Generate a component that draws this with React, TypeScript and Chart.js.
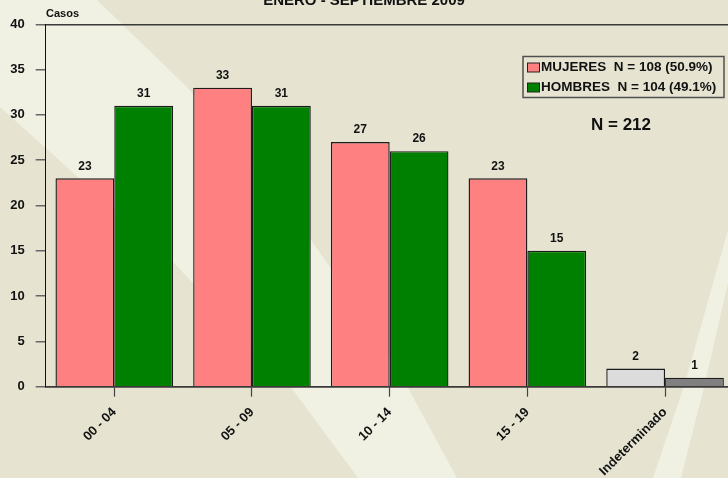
import React, { useEffect, useRef } from 'react';
import { Chart, registerables } from 'chart.js';

Chart.register(...registerables);

const categories = ['00 - 04', '05 - 09', '10 - 14', '15 - 19', 'Indeterminado'];
const mujeres = [23, 33, 27, 23, 2];
const hombres = [31, 31, 26, 15, 1];
const mujeresColors = ['#FF8080', '#FF8080', '#FF8080', '#FF8080', '#DCDCDC'];
const hombresColors = ['#008000', '#008000', '#008000', '#008000', '#808080'];
const seriesNames = ['MUJERES  N = 108 (50.9%)', 'HOMBRES  N = 104 (49.1%)'];
const legendColors = ['#FF8080', '#008000'];
const yTickValues = [0, 5, 10, 15, 20, 25, 30, 35, 40];
const titleText = 'ENERO - SEPTIEMBRE 2009';
const yAxisTitle = 'Casos';
const totalText = 'N = 212';

const FONT = "Arial, 'Liberation Sans', sans-serif";
const BASE = 'rgb(230,228,209)';
const LIGHT = 'rgb(240,240,227)';

const backgroundPlugin = {
  id: 'bgPlugin',
  beforeDraw(chart: any) {
    const ctx = chart.ctx;
    const w = chart.width;
    const h = chart.height;
    ctx.save();
    ctx.fillStyle = BASE;
    ctx.fillRect(0, 0, w, h);
    ctx.fillStyle = LIGHT;
    // band 1
    const right = [[97, 0], [187, 87], [250, 162], [311, 240], [360, 310], [407, 386], [457, 478]];
    const left = [[358, 478], [290, 386], [230, 322], [173, 262], [90, 188], [0, 107]];
    ctx.beginPath();
    ctx.moveTo(0, 0);
    right.forEach(([x, y]) => ctx.lineTo(x, y));
    left.forEach(([x, y]) => ctx.lineTo(x, y));
    ctx.closePath();
    ctx.fill();
    // band 2
    ctx.beginPath();
    ctx.moveTo(728, 230);
    ctx.lineTo(685, 383);
    ctx.lineTo(653, 478);
    ctx.lineTo(681, 478);
    ctx.lineTo(705, 383);
    ctx.lineTo(728, 283);
    ctx.closePath();
    ctx.fill();
    ctx.restore();
  },
};

const annotationsPlugin = {
  id: 'annotPlugin',
  afterDatasetsDraw(chart: any) {
    const ctx = chart.ctx;
    ctx.save();
    // value labels
    ctx.fillStyle = '#111';
    ctx.font = `bold 12px ${FONT}`;
    ctx.textAlign = 'center';
    ctx.textBaseline = 'middle';
    chart.data.datasets.forEach((ds: any, di: number) => {
      const meta = chart.getDatasetMeta(di);
      meta.data.forEach((el: any, i: number) => {
        const v = ds.data[i].y;
        ctx.fillText(String(v), el.x, el.y - 12);
      });
    });
    // title (cut at top)
    ctx.font = `bold 15px ${FONT}`;
    ctx.textBaseline = 'alphabetic';
    ctx.fillText(titleText, 364, 5);
    // y axis title
    ctx.font = `bold 11px ${FONT}`;
    ctx.textAlign = 'left';
    ctx.textBaseline = 'middle';
    ctx.fillText(yAxisTitle, 46, 13.5);
    // total
    ctx.font = `bold 17px ${FONT}`;
    ctx.textAlign = 'center';
    ctx.fillText(totalText, 621, 125);
    // legend
    ctx.strokeStyle = '#505050';
    ctx.lineWidth = 1.5;
    ctx.strokeRect(523, 56.5, 201, 41);
    ctx.font = `bold 13.5px ${FONT}`;
    ctx.textAlign = 'left';
    seriesNames.forEach((name, i) => {
      const cy = 67.5 + i * 20;
      ctx.fillStyle = legendColors[i];
      ctx.fillRect(527, cy - 4.5, 13, 9);
      ctx.strokeStyle = '#222';
      ctx.lineWidth = 1;
      ctx.strokeRect(527.5, cy - 4.5, 12, 9);
      ctx.fillStyle = '#111';
      ctx.fillText(name, 541, cy);
    });
    ctx.restore();
  },
};

export default function App() {
  const ref = useRef<HTMLCanvasElement | null>(null);
  useEffect(() => {
    if (!ref.current) return;
    const chart = new Chart(ref.current, {
      type: 'bar',
      data: {
        datasets: [
          {
            label: seriesNames[0],
            data: mujeres.map((v, i) => ({ x: i, y: v })),
            backgroundColor: mujeresColors,
            borderColor: '#1c1c1c',
            borderWidth: 1.4,
            categoryPercentage: 0.854,
            barPercentage: 1,
          },
          {
            label: seriesNames[1],
            data: hombres.map((v, i) => ({ x: i, y: v })),
            backgroundColor: hombresColors,
            borderColor: '#1c1c1c',
            borderWidth: 1.4,
            categoryPercentage: 0.854,
            barPercentage: 1,
          },
        ],
      } as any,
      options: {
        responsive: false,
        animation: false,
        devicePixelRatio: 1,
        layout: { padding: { top: 24.3, left: 0, right: 0, bottom: 0 } },
        plugins: {
          legend: { display: false },
          title: { display: false },
          tooltip: { enabled: false },
        },
        scales: {
          x: {
            type: 'linear',
            min: -0.498,
            max: 4.457,
            offset: false,
            afterBuildTicks: (s: any) => {
              s.ticks = categories.map((_, i) => ({ value: i }));
            },
            afterFit: (s: any) => {
              s.height = 91.3;
            },
            ticks: {
              autoSkip: false,
              maxRotation: 45,
              minRotation: 45,
              padding: 8,
              color: '#111',
              font: { family: FONT, size: 13, weight: 'bold' },
              callback: (v: any) => categories[v] ?? '',
            },
            grid: {
              drawOnChartArea: false,
              offset: false,
              tickLength: 10,
              tickColor: '#444',
              tickWidth: 1.2,
              color: '#444',
            },
            border: { display: true, color: '#3a3a3a', width: 1.5 },
          },
          y: {
            min: 0,
            max: 40,
            afterBuildTicks: (s: any) => {
              s.ticks = yTickValues.map((v) => ({ value: v }));
            },
            afterFit: (s: any) => {
              s.width = 45.7;
            },
            ticks: {
              padding: 11,
              color: '#111',
              font: { family: FONT, size: 13, weight: 'bold' },
            },
            grid: {
              drawOnChartArea: true,
              tickLength: 10,
              tickWidth: 1.5,
              tickColor: '#666',
              lineWidth: 1.5,
              color: (c: any) =>
                c.tick && (c.tick.value === 40 || c.tick.value === 0) ? '#3a3a3a' : 'rgba(0,0,0,0)',
            },
            border: { display: true, color: '#111', width: 1 },
          },
        },
      } as any,
      plugins: [backgroundPlugin, annotationsPlugin],
    });
    return () => chart.destroy();
  }, []);
  return (
    <div style={{ position: 'fixed', left: 0, top: 0, width: 728, height: 478, overflow: 'hidden' }}>
      <canvas ref={ref} width={728} height={478} style={{ display: 'block' }} />
    </div>
  );
}
